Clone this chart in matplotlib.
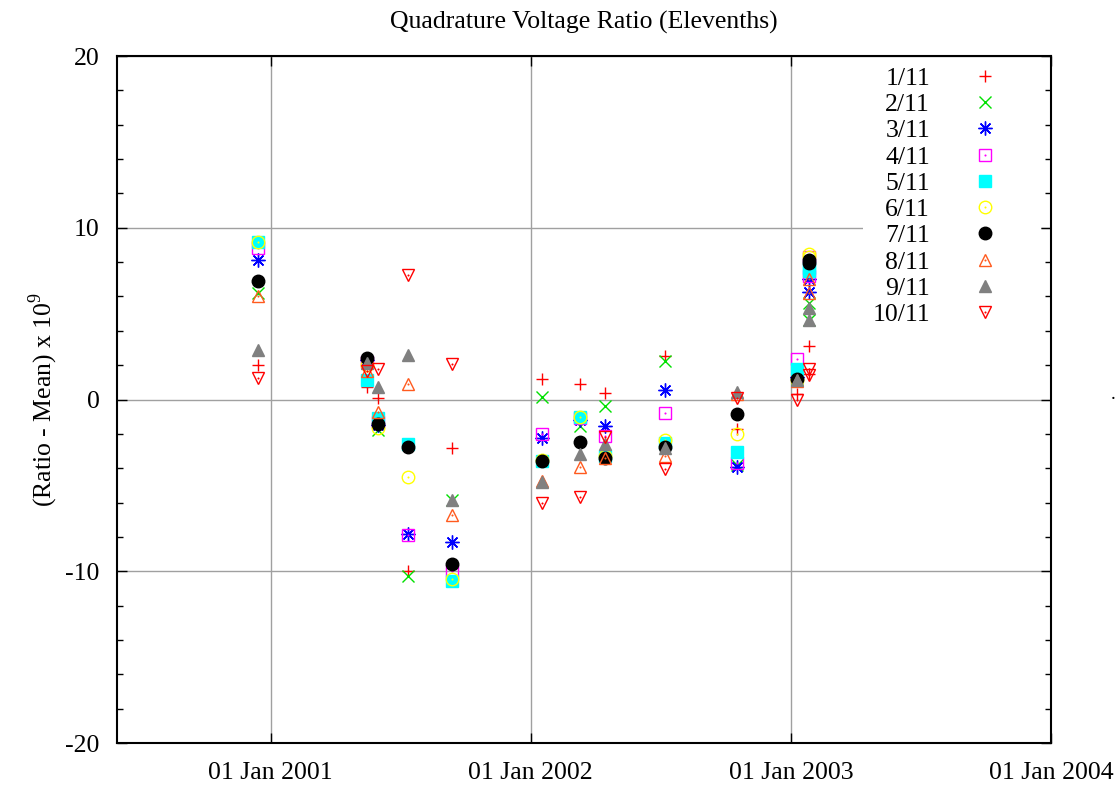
import numpy as np
import matplotlib
matplotlib.use('Agg')
import matplotlib.pyplot as plt
import matplotlib.dates as mdates
from matplotlib.ticker import MultipleLocator

plt.rcParams['font.family'] = ['Liberation Serif', 'DejaVu Serif']
plt.rcParams['mathtext.fontset'] = 'custom'
plt.rcParams['mathtext.rm'] = 'Liberation Serif'
plt.rcParams['axes.unicode_minus'] = False

# measurement dates
dates = np.array(['2000-12-14', '2001-05-16', '2001-05-31', '2001-07-12',
                  '2001-09-13', '2002-01-17', '2002-03-11', '2002-04-15',
                  '2002-07-08', '2002-10-17', '2003-01-10', '2003-01-27',
                  '2003-01-27'], dtype='datetime64[D]')

labels = ['1/11', '2/11', '3/11', '4/11', '5/11',
          '6/11', '7/11', '8/11', '9/11', '10/11']

r1 = [2.0, 0.7, 0.1, -10.0, -2.85, 1.2, 0.9, 0.4, 2.55, -1.7, 0.3, 3.1, 1.5]
r2 = [6.2, 2.2, -1.75, -10.3, -5.85, 0.15, -1.55, -0.35, 2.25, -3.8, 1.2, 5.6, 4.65]
r3 = [8.15, 2.3, -1.5, -7.85, -8.3, -2.25, -1.2, -1.55, 0.55, -3.9, 1.3, 7.0, 6.25]
r4 = [8.85, 2.2, -1.3, -7.9, -10.0, -2.0, -1.1, -2.1, -0.8, -3.7, 2.35, 8.3, 7.2]
r5 = [9.2, 1.15, -1.1, -2.6, -10.55, -3.6, -1.0, -3.3, -2.55, -3.05, 1.8, 7.65, 7.5]
r6 = [9.15, 2.0, -1.65, -4.5, -10.45, -3.5, -1.0, -3.3, -2.35, -2.0, 1.15, 8.5, 8.3]
r7 = [6.9, 2.4, -1.45, -2.75, -9.6, -3.6, -2.45, -3.4, -2.75, -0.85, 1.2, 8.1, 7.95]
r8 = [6.0, 1.65, -0.7, 0.9, -6.7, -4.75, -3.9, -3.4, -3.3, 0.3, 1.1, 7.0, 6.2]
r9 = [2.9, 2.1, 0.75, 2.6, -5.85, -4.8, -3.2, -2.6, -2.85, 0.45, 1.15, 5.3, 4.65]
r10 = [1.25, 1.65, 1.8, 7.25, 2.05, -6.0, -5.7, -2.2, -4.05, 0.1, -0.05, 1.75, 1.45]
series = [r1, r2, r3, r4, r5, r6, r7, r8, r9, r10]

# (marker, colour, filled, centre dot)
styles = [('+', '#ff0000', False, False),
          ('x', '#00e000', False, False),
          ((8, 2, 0), '#0000ff', False, False),
          ('s', '#ff00ff', False, True),
          ('s', '#00ffff', True, False),
          ('o', '#ffff00', False, True),
          ('o', '#000000', True, False),
          ('^', '#ff5a1e', False, True),
          ('^', '#808080', True, False),
          ('v', '#ff0000', False, True)]

fig = plt.figure(figsize=(11.2, 7.87), dpi=100)
ax = fig.add_axes([0.1049, 0.0559, 0.8335, 0.8729])

handles = []
for vals, lab, (m, c, filled, dot) in zip(series, labels, styles):
    if filled:
        h, = ax.plot(dates, vals, linestyle='none', marker=m, ms=9,
                     mfc=c, mec=c, mew=1)
        handles.append(h)
    else:
        if m == '+' or m == 'x':
            ms = 8
        elif m == (8, 2, 0):
            ms = 10
        else:
            ms = 9
        h, = ax.plot(dates, vals, linestyle='none', marker=m, ms=ms,
                     mfc='none', mec=c, mew=1)
        if dot:
            d, = ax.plot(dates, vals, linestyle='none', marker='o', ms=1.5,
                         mfc=c, mec=c, mew=0)
            handles.append((h, d))
        else:
            handles.append(h)

ax.set_xlim(np.datetime64('2000-05-31'), np.datetime64('2004-01-01'))
ax.set_ylim(-20, 20)
ax.xaxis.set_major_locator(mdates.YearLocator())
ax.xaxis.set_major_formatter(mdates.DateFormatter('%d %b %Y'))
ax.yaxis.set_major_locator(MultipleLocator(10))
ax.yaxis.set_minor_locator(MultipleLocator(2))
ax.tick_params(axis='both', which='both', direction='in',
               top=True, right=True, labelsize=18.5)
ax.tick_params(axis='both', which='major', length=7, width=1)
ax.tick_params(axis='both', which='minor', length=4, width=1)
ax.tick_params(axis='x', pad=14)
ax.tick_params(axis='y', pad=13)
for s in ax.spines.values():
    s.set_linewidth(1.5)
ax.grid(True, which='major', color='#a0a0a0', linewidth=1)
ax.set_axisbelow(True)

ax.set_title('Quadrature Voltage Ratio (Elevenths)', fontsize=18.5, pad=20)
ax.set_ylabel('(Ratio - Mean) x 10$^9$', fontsize=18.5, labelpad=4)

leg = ax.legend(handles, labels, loc='upper right',
                bbox_to_anchor=(0.9893, 0.9978), markerfirst=False,
                fontsize=18.5, frameon=True, facecolor='white',
                edgecolor='none', framealpha=1, fancybox=False,
                borderpad=0.35, handletextpad=0.31, labelspacing=0.13,
                borderaxespad=0, handlelength=3.66)

fig.text(1113 / 1120, 1 - 399 / 787, '.', fontsize=14, ha='center', va='baseline')

fig.savefig('out.png', dpi=100)
